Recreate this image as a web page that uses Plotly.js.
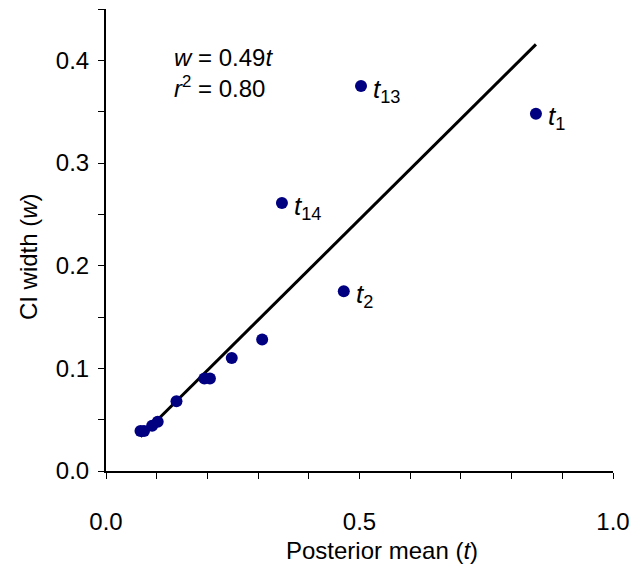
<!DOCTYPE html>
<html>
<head>
<meta charset="utf-8">
<script src="https://cdn.plot.ly/plotly-3.0.1.min.js"></script>
<style>html,body{margin:0;padding:0;background:#fff;}#chart{width:633px;height:584px;}</style>
</head>
<body>
<div id="chart"></div>
<script>
// Posterior mean (t) and CI width (w) for each parameter
var posteriorMean = [0.068, 0.075, 0.091, 0.102, 0.139, 0.194, 0.205, 0.248, 0.308, 0.347, 0.469, 0.503, 0.848];
var ciWidth       = [0.039, 0.039, 0.044, 0.048, 0.068, 0.090, 0.090, 0.110, 0.128, 0.261, 0.175, 0.375, 0.348];
// labelled outliers
var labelX    = [0.347, 0.469, 0.503, 0.848];
var labelY    = [0.261, 0.175, 0.375, 0.348];
var labelText = ['<i>t</i><sub>14</sub>', '<i>t</i><sub>2</sub>', '<i>t</i><sub>13</sub>', '<i>t</i><sub>1</sub>'];
// regression w = slope * t
var slope = 0.49;
var rSquared = '0.80';
var xTitle = 'Posterior mean (<i>t</i>)';
var yTitle = 'CI width (<i>w</i>)';

var xMin = Math.min.apply(null, posteriorMean);
var xMax = Math.max.apply(null, posteriorMean);
var fitX = [xMin, xMax];
var fitY = fitX.map(function (v) { return slope * v; });

var FAM = 'Liberation Sans, Arial, sans-serif';
var font = {family: FAM, size: 24, color: '#000'};

var traces = [
  {x: fitX, y: fitY, mode: 'lines', line: {color: '#000', width: 3}, hoverinfo: 'skip', cliponaxis: false},
  {x: posteriorMean, y: ciWidth, mode: 'markers', marker: {color: '#000080', size: 12}, cliponaxis: false}
];

var annotations = labelX.map(function (x, i) {
  return {x: x, y: labelY[i], xref: 'x', yref: 'y', text: labelText[i], showarrow: false,
          xanchor: 'left', yanchor: 'middle', xshift: 10, yshift: -4, font: {family: FAM, size: 26, color: '#000'}};
});
annotations.push({xref: 'paper', yref: 'paper', x: 0.13, y: 0.896, xanchor: 'left', yanchor: 'middle',
  text: '<i>w</i> = ' + slope + '<i>t</i>', showarrow: false, font: font});
annotations.push({xref: 'paper', yref: 'paper', x: 0.13, y: 0.831, xanchor: 'left', yanchor: 'middle',
  text: '<i>r</i><sup>2</sup> = ' + rSquared, showarrow: false, font: font});
// axis titles (placed as in the reference, slightly off-centre)
annotations.push({xref: 'paper', yref: 'paper', x: 0.544, y: -0.173, xanchor: 'center', yanchor: 'middle',
  text: xTitle, showarrow: false, font: font});
annotations.push({xref: 'paper', yref: 'paper', x: -0.154, y: 0.465, xanchor: 'center', yanchor: 'middle',
  text: yTitle, textangle: -90, showarrow: false, font: font});

var layout = {
  width: 633, height: 584,
  margin: {l: 106, r: 20, t: 9, b: 113},
  paper_bgcolor: '#fff', plot_bgcolor: '#fff',
  showlegend: false,
  font: font,
  xaxis: {
    range: [0, 1], tickvals: [0, 0.5, 1], ticktext: ['0.0', '0.5', '1.0'],
    ticks: 'outside', ticklen: 6, tickwidth: 1, tickcolor: '#000',
    minor: {dtick: 0.1, ticks: 'outside', ticklen: 6, tickcolor: '#000', tickwidth: 1},
    showline: true, linecolor: '#000', linewidth: 2, showgrid: false, zeroline: false,
    ticklabelstandoff: 22, tickfont: font
  },
  yaxis: {
    range: [0, 0.45], tickvals: [0, 0.1, 0.2, 0.3, 0.4], ticktext: ['0.0', '0.1', '0.2', '0.3', '0.4'],
    ticks: 'outside', ticklen: 6, tickwidth: 1, tickcolor: '#000',
    minor: {dtick: 0.05, ticks: 'outside', ticklen: 6, tickcolor: '#000', tickwidth: 1},
    showline: true, linecolor: '#000', linewidth: 2, showgrid: false, zeroline: false,
    ticklabelstandoff: 4, tickfont: font
  },
  annotations: annotations
};

Plotly.newPlot('chart', traces, layout, {displayModeBar: false, staticPlot: true});
</script>
</body>
</html>
